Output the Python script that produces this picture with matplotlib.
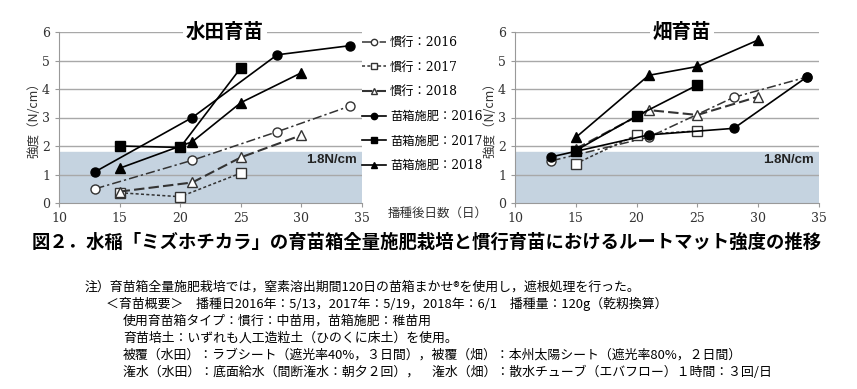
import matplotlib.pyplot as plt

plt.rcParams['font.family'] = ['DejaVu Serif', 'Noto Sans CJK JP']

# 水田育苗
p_kanko16_x = [13, 21, 28, 34]
p_kanko16_y = [0.5, 1.5, 2.5, 3.4]
p_kanko17_x = [15, 20, 25]
p_kanko17_y = [0.36, 0.22, 1.05]
p_kanko18_x = [15, 21, 25, 30]
p_kanko18_y = [0.4, 0.72, 1.6, 2.38]
p_nae16_x = [13, 21, 28, 34]
p_nae16_y = [1.1, 3.0, 5.2, 5.52]
p_nae17_x = [15, 20, 25]
p_nae17_y = [2.0, 1.95, 4.74]
p_nae18_x = [15, 21, 25, 30]
p_nae18_y = [1.22, 2.15, 3.52, 4.57]

# 畑育苗
h_kanko16_x = [13, 21, 28, 34]
h_kanko16_y = [1.48, 2.31, 3.71, 4.42]
h_kanko17_x = [15, 20, 25]
h_kanko17_y = [1.38, 2.39, 2.53]
h_kanko18_x = [15, 21, 25, 30]
h_kanko18_y = [1.9, 3.26, 3.09, 3.73]
h_nae16_x = [13, 21, 28, 34]
h_nae16_y = [1.62, 2.39, 2.62, 4.42]
h_nae17_x = [15, 20, 25]
h_nae17_y = [1.84, 3.05, 4.14]
h_nae18_x = [15, 21, 25, 30]
h_nae18_y = [2.3, 4.48, 4.79, 5.72]

labels = ['慣行：2016', '慣行：2017', '慣行：2018',
          '苗箱施肥：2016', '苗箱施肥：2017', '苗箱施肥：2018']
threshold = 1.8

styles = [
    dict(ls=(0, (6, 2, 1.5, 2)), marker='o', mfc='white', color='#333333', lw=1.1, ms=6.5),
    dict(ls=(0, (2, 1.5)), marker='s', mfc='white', color='#333333', lw=1.1, ms=6.5),
    dict(ls=(0, (5, 2)), marker='^', mfc='white', color='#333333', lw=1.5, ms=6.5),
    dict(ls='-', marker='o', mfc='black', color='black', lw=1.2, ms=6.5),
    dict(ls='-', marker='s', mfc='black', color='black', lw=1.2, ms=6.5),
    dict(ls='-', marker='^', mfc='black', color='black', lw=1.2, ms=6.5),
]

fig = plt.figure(figsize=(8.57, 3.89), dpi=100)
ax1 = fig.add_axes([59/857, 1-203/389, 303/857, 171/389])
ax2 = fig.add_axes([515/857, 1-203/389, 304/857, 171/389])

paddy = [(p_kanko16_x, p_kanko16_y), (p_kanko17_x, p_kanko17_y), (p_kanko18_x, p_kanko18_y),
         (p_nae16_x, p_nae16_y), (p_nae17_x, p_nae17_y), (p_nae18_x, p_nae18_y)]
field = [(h_kanko16_x, h_kanko16_y), (h_kanko17_x, h_kanko17_y), (h_kanko18_x, h_kanko18_y),
         (h_nae16_x, h_nae16_y), (h_nae17_x, h_nae17_y), (h_nae18_x, h_nae18_y)]

handles = []
for ax, data, title in [(ax1, paddy, '水田育苗'), (ax2, field, '畑育苗')]:
    ax.axhspan(0, threshold, color='#c5d3e0', zorder=0)
    for y in range(1, 7):
        ax.axhline(y, color='#a8a8a8', lw=1, zorder=1)
    hs = []
    for (x, y), st, lab in zip(data, styles, labels):
        h, = ax.plot(x, y, label=lab, zorder=3, **st)
        hs.append(h)
    if not handles:
        handles = hs
    ax.set_xlim(10, 35)
    ax.set_ylim(0, 6)
    ax.set_xticks(range(10, 36, 5))
    ax.set_yticks(range(0, 7))
    for s in ['top', 'right']:
        ax.spines[s].set_visible(False)
    for s in ['left', 'bottom']:
        ax.spines[s].set_color('#999999')
    ax.tick_params(labelsize=9, colors='#333333', length=3)
    ax.tick_params(color='#999999')
    ax.set_ylabel('強度（N/cm）', fontsize=9, color='#333333', labelpad=1,
                  family=['Noto Sans CJK JP'])
    ax.text(34.6, 1.5, '1.8N/cm', ha='right', va='center', fontsize=9.5,
            fontweight='bold', family=['Liberation Sans'], color='#222222', zorder=4)
    ax.text(23.7, 6, title, ha='center', va='center', fontsize=14, fontweight='bold',
            family=['Noto Sans CJK JP'], zorder=5,
            bbox=dict(facecolor='white', edgecolor='none', pad=2))

fig.legend(handles=handles, labels=labels, loc='upper left',
           bbox_to_anchor=(362/857, 1-36/389), frameon=False, fontsize=8.8,
           handlelength=2.0, handletextpad=0.3, labelspacing=0.95, borderpad=0,
           borderaxespad=0, markerscale=0.7)

fig.text(388/857, 1-213/389, '播種後日数（日）', fontsize=9, va='center',
         family=['Noto Sans CJK JP'], color='#333333')

fig.text(32/857, 1-242/389,
         '図２．水稲「ミズホチカラ」の育苗箱全量施肥栽培と慣行育苗におけるルートマット強度の推移',
         fontsize=13.2, fontweight='bold', va='center', family=['Noto Sans CJK JP'])

notes = [
    (85, '注）育苗箱全量施肥栽培では，窒素溶出期間120日の苗箱まかせ®を使用し，遮根処理を行った。'),
    (106, '＜育苗概要＞　播種日2016年：5/13，2017年：5/19，2018年：6/1　播種量：120g（乾籾換算）'),
    (123, '使用育苗箱タイプ：慣行：中苗用，苗箱施肥：稚苗用'),
    (123, '育苗培土：いずれも人工造粒土（ひのくに床土）を使用。'),
    (123, '被覆（水田）：ラブシート（遮光率40%，３日間），被覆（畑）：本州太陽シート（遮光率80%，２日間）'),
    (123, '潅水（水田）：底面給水（間断潅水：朝夕２回），　潅水（畑）：散水チューブ（エバフロー）１時間：３回/日'),
]
for i, (x, t) in enumerate(notes):
    fig.text(x/857, 1-(287+17*i)/389, t, fontsize=9.3, va='center',
             family=['Noto Sans CJK JP', 'DejaVu Sans'])

fig.savefig('out.png', dpi=100)
